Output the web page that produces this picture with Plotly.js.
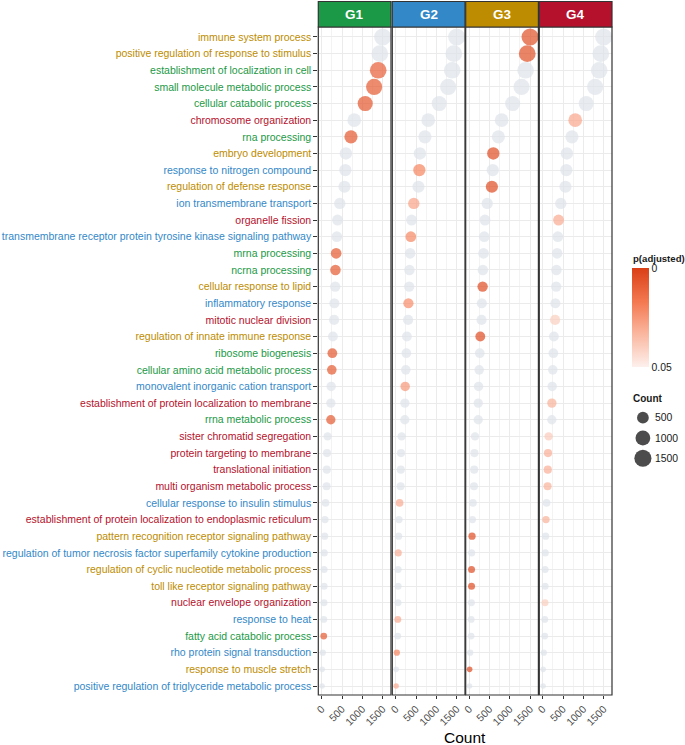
<!DOCTYPE html>
<html>
<head>
<meta charset="utf-8">
<script src="https://cdn.plot.ly/plotly-3.0.1.min.js"></script>
<style>
  body { margin: 0; background: #fff; }
  #chart { width: 685px; height: 745px; }
</style>
</head>
<body>
<div id="chart"></div>
<script>
// GO terms, top to bottom
const terms = [
  'immune system process',
  'positive regulation of response to stimulus',
  'establishment of localization in cell',
  'small molecule metabolic process',
  'cellular catabolic process',
  'chromosome organization',
  'rna processing',
  'embryo development',
  'response to nitrogen compound',
  'regulation of defense response',
  'ion transmembrane transport',
  'organelle fission',
  'transmembrane receptor protein tyrosine kinase signaling pathway',
  'mrna processing',
  'ncrna processing',
  'cellular response to lipid',
  'inflammatory response',
  'mitotic nuclear division',
  'regulation of innate immune response',
  'ribosome biogenesis',
  'cellular amino acid metabolic process',
  'monovalent inorganic cation transport',
  'establishment of protein localization to membrane',
  'rrna metabolic process',
  'sister chromatid segregation',
  'protein targeting to membrane',
  'translational initiation',
  'multi organism metabolic process',
  'cellular response to insulin stimulus',
  'establishment of protein localization to endoplasmic reticulum',
  'pattern recognition receptor signaling pathway',
  'regulation of tumor necrosis factor superfamily cytokine production',
  'regulation of cyclic nucleotide metabolic process',
  'toll like receptor signaling pathway',
  'nuclear envelope organization',
  'response to heat',
  'fatty acid catabolic process',
  'rho protein signal transduction',
  'response to muscle stretch',
  'positive regulation of triglyceride metabolic process'
];

// group each term label is coloured by
const termGroup = [
  'G3','G3','G1','G1','G1','G4','G1','G3','G2','G3',
  'G2','G4','G2','G1','G1','G3','G2','G4','G3','G1',
  'G1','G2','G4','G1','G4','G4','G4','G4','G2','G4',
  'G3','G2','G3','G3','G4','G2','G1','G2','G3','G2'
];

// gene count per term (same in every panel)
const counts = [
  1500, 1430, 1390, 1290, 1070, 800, 720, 595, 582, 560,
  445, 390, 372, 355, 338, 332, 312, 305, 275, 262,
  248, 233, 225, 224, 145, 130, 125, 120, 95, 80,
  72, 63, 60, 60, 57, 52, 50, 28, 12, 10
];

// adjusted p values, null = not significant (grey)
const _ = null;
const pG1 = [
  _, _, 0.009, 0.008, 0.007, _, 0.007, _, _, _,
  _, _, _, 0.008, 0.008, _, _, _, _, 0.007,
  0.008, _, _, 0.008, _, _, _, _, _, _,
  _, _, _, _, _, _, 0.008, _, _, _
];
const pG2 = [
  _, _, _, _, _, _, _, _, 0.020, _,
  0.028, _, 0.021, _, _, _, 0.022, _, _, _,
  _, 0.025, _, _, _, _, _, _, 0.030, _,
  _, 0.031, _, _, _, 0.030, _, 0.020, _, 0.030
];
const pG3 = [
  0.005, 0.005, _, _, _, _, _, 0.004, _, 0.004,
  _, _, _, _, _, 0.004, _, _, 0.004, _,
  _, _, _, _, _, _, _, _, _, _,
  0.004, _, 0.004, 0.004, _, _, _, _, 0.004, _
];
const pG4 = [
  _, _, _, _, _, 0.029, _, _, _, _,
  _, 0.030, _, _, _, _, _, 0.040, _, _,
  _, _, 0.032, _, 0.039, 0.031, 0.031, 0.032, _, 0.032,
  _, _, _, _, 0.040, _, _, _, _, _
];

const groups = ['G1', 'G2', 'G3', 'G4'];
const pByGroup = [pG1, pG2, pG3, pG4];
const groupColors = { G1: '#1b9946', G2: '#3388c8', G3: '#bd8c00', G4: '#b5112c' };

const xTicks = [0, 500, 1000, 1500];
const sizeBreaks = [500, 1000, 1500];
const pLimits = [0, 0.05];

// page geometry
const W = 685, H = 745, L = 318, T = 27, B = 50;
const plotW = W - L;
const plotH = H - T - B;
const fx = px => (px - L) / plotW;
const fy = py => 1 - (py - T) / plotH;

const panelPx = [[318.3, 391], [392.3, 465], [465.7, 538.4], [539.3, 612]];
const fontFamily = '"Liberation Sans", Arial, Helvetica, sans-serif';
const greyPoint = '#dee4e9';
const gridCol = '#ebebeb';

const sizeOf = c => 4.5 + 0.325 * Math.sqrt(c);

const traces = [];
const layout = {
  width: W,
  height: H,
  margin: { l: L, r: 0, t: T, b: B },
  paper_bgcolor: '#fff',
  plot_bgcolor: '#fff',
  font: { family: fontFamily, color: '#1a1a1a' },
  showlegend: false,
  shapes: [],
  annotations: [],
  coloraxis: {
    cmin: -pLimits[1],
    cmax: -pLimits[0],
    colorscale: [[0, '#fdf0ec'], [0.35, '#fab49c'], [0.65, '#f47a52'], [1, '#da3f16']],
    colorbar: {
      x: fx(632.3), xanchor: 'left', xpad: 0,
      y: fy(367.3), yanchor: 'bottom', ypad: 0,
      len: 99, lenmode: 'pixels', thickness: 17,
      outlinewidth: 0,
      tickmode: 'array',
      tickvals: pLimits.map(v => -v),
      ticktext: pLimits.map(String),
      ticks: 'inside', ticklen: 3, tickcolor: '#fff',
      tickfont: { size: 10.4, color: '#1a1a1a' }
    }
  },
  yaxis: {
    domain: [0, 1],
    anchor: 'x',
    type: 'category',
    categoryorder: 'array',
    categoryarray: terms,
    range: [terms.length - 0.46, -0.6],
    tickmode: 'array',
    tickvals: terms,
    ticktext: terms.map((t, i) => `<span style="color:${groupColors[termGroup[i]]}">${t}</span>`),
    ticks: 'outside', ticklen: 4, tickcolor: '#333',
    tickfont: { size: 10.5 },
    showgrid: true, gridcolor: gridCol, gridwidth: 1,
    zeroline: false, showline: false, fixedrange: true
  }
};

groups.forEach((g, k) => {
  const xName = k === 0 ? 'x' : 'x' + (k + 1);
  const axKey = k === 0 ? 'xaxis' : 'xaxis' + (k + 1);
  const p = pByGroup[k];

  layout[axKey] = {
    domain: [fx(panelPx[k][0]), fx(panelPx[k][1])],
    anchor: 'y',
    range: [-84, 1705],
    tickmode: 'array',
    tickvals: xTicks,
    ticktext: xTicks.map(String),
    tickangle: -45,
    ticks: 'outside', ticklen: 3, tickcolor: '#333',
    tickfont: { size: 10.4, color: '#4d4d4d' },
    showgrid: true, gridcolor: gridCol, gridwidth: 1,
    minor: { dtick: 250, tick0: 0, showgrid: true, gridcolor: gridCol, gridwidth: 0.6, ticks: '' },
    zeroline: false, showline: false, fixedrange: true
  };

  const ns = terms.map((t, i) => i).filter(i => p[i] === null);
  const sig = terms.map((t, i) => i).filter(i => p[i] !== null);

  traces.push({
    type: 'scatter', mode: 'markers',
    x: ns.map(i => counts[i]),
    y: ns.map(i => terms[i]),
    xaxis: xName, yaxis: 'y',
    marker: { color: greyPoint, size: ns.map(i => sizeOf(counts[i])), line: { width: 0 } },
    hoverinfo: 'skip'
  });
  traces.push({
    type: 'scatter', mode: 'markers',
    x: sig.map(i => counts[i]),
    y: sig.map(i => terms[i]),
    xaxis: xName, yaxis: 'y',
    marker: {
      color: sig.map(i => -p[i]),
      coloraxis: 'coloraxis',
      size: sig.map(i => sizeOf(counts[i])),
      line: { width: 0 }
    },
    hoverinfo: 'skip'
  });

  // panel border
  layout.shapes.push({
    type: 'rect', xref: xName + ' domain', yref: 'y domain',
    x0: 0, x1: 1, y0: 0, y1: 1,
    line: { color: '#333', width: 1.2 }, layer: 'above'
  });
  // facet strip
  layout.shapes.push({
    type: 'rect', xref: xName + ' domain', yref: 'paper',
    x0: 0, x1: 1, y0: fy(27), y1: fy(1.5),
    fillcolor: groupColors[g],
    line: { color: '#333', width: 1.2 }
  });
  layout.annotations.push({
    xref: xName + ' domain', yref: 'paper',
    x: 0.5, y: fy(14.5), xanchor: 'center', yanchor: 'middle',
    text: '<b>' + g + '</b>', showarrow: false,
    font: { size: 13.5, color: '#fff' }
  });
});

// size legend drawn as a tiny subplot
layout.xaxis5 = {
  domain: [fx(632.3), fx(654)],
  anchor: 'y5',
  range: [-10.4, 10.9],
  visible: false, fixedrange: true
};
layout.yaxis5 = {
  domain: [fy(468.5), fy(407.5)],
  anchor: 'x5',
  side: 'right',
  type: 'category',
  categoryorder: 'array',
  categoryarray: sizeBreaks.map(String),
  range: [sizeBreaks.length - 0.5, -0.5],
  showgrid: false, zeroline: false, showline: false, ticks: '',
  tickfont: { size: 10.4, color: '#1a1a1a' },
  fixedrange: true
};
traces.push({
  type: 'scatter', mode: 'markers',
  x: sizeBreaks.map(() => 0),
  y: sizeBreaks.map(String),
  xaxis: 'x5', yaxis: 'y5',
  marker: { color: '#000', size: sizeBreaks.map(sizeOf), line: { width: 0 } },
  hoverinfo: 'skip'
});

// legend titles
layout.annotations.push({
  xref: 'paper', yref: 'paper',
  x: fx(630.5), y: fy(258), xanchor: 'left', yanchor: 'middle',
  text: '<b>p(adjusted)</b>', showarrow: false,
  font: { size: 9.6, color: '#1a1a1a' }
});
layout.annotations.push({
  xref: 'paper', yref: 'paper',
  x: fx(630.5), y: fy(399), xanchor: 'left', yanchor: 'middle',
  text: '<b>Count</b>', showarrow: false,
  font: { size: 10, color: '#1a1a1a' }
});
layout.annotations.push({
  xref: 'paper', yref: 'paper',
  x: fx(465), y: fy(737), xanchor: 'center', yanchor: 'middle',
  text: 'Count', showarrow: false,
  font: { size: 15.5, color: '#000' }
});

Plotly.newPlot('chart', traces, layout, { staticPlot: true });
</script>
</body>
</html>
